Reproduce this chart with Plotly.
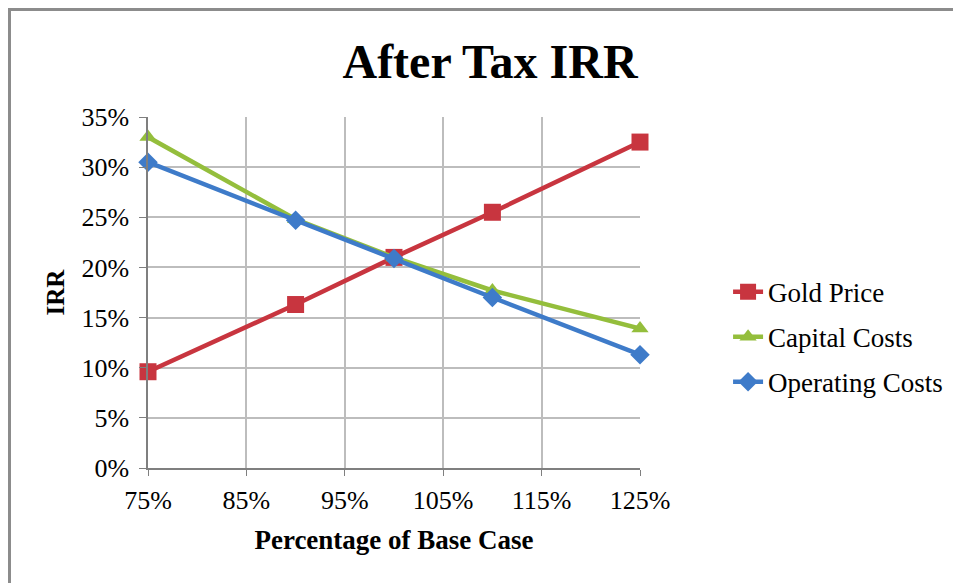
import plotly.graph_objects as go

x_vals = [75, 90, 100, 110, 125]
gold_price = [9.6, 16.3, 21.0, 25.5, 32.5]
capital_costs = [33.0, 24.8, 21.0, 17.7, 13.9]
operating_costs = [30.5, 24.7, 20.9, 17.0, 11.3]
x_ticks = [75, 85, 95, 105, 115, 125]
x_tick_text = ["75%", "85%", "95%", "105%", "115%", "125%"]
y_ticks = [0, 5, 10, 15, 20, 25, 30, 35]
y_tick_text = ["0%", "5%", "10%", "15%", "20%", "25%", "30%", "35%"]

FONT = "Liberation Serif, Times New Roman, serif"

fig = go.Figure()
series = [
    ("Gold Price", gold_price, "#C8353F", "square", 17),
    ("Capital Costs", capital_costs, "#94BE3C", "triangle-up", 15),
    ("Operating Costs", operating_costs, "#3E7BC9", "diamond", 15),
]
for name, vals, col, sym, sz in series:
    fig.add_trace(go.Scatter(
        x=x_vals, y=vals, name=name, mode="lines+markers",
        line=dict(color=col, width=4.5),
        marker=dict(symbol=sym, size=sz, color=col),
        cliponaxis=False, legendgroup=name,
    ))

fig.update_layout(
    width=961, height=583,
    margin=dict(l=140, r=329, t=109, b=123),
    paper_bgcolor="white", plot_bgcolor="white",
    font=dict(family=FONT, size=26, color="black"),
    title=dict(text="<b>After Tax IRR</b>", x=0.5016, xanchor="center",
               y=0.909, yanchor="middle", font=dict(family=FONT, size=48, color="black")),
    legend=dict(x=1.179, xanchor="left", y=0.373, yanchor="middle",
                font=dict(family=FONT, size=27, color="black"),
                traceorder="grouped", tracegroupgap=7, itemwidth=30),
    showlegend=True,
)
fig.update_xaxes(
    range=[75, 125], tickvals=x_ticks, ticktext=x_tick_text,
    showgrid=True, gridcolor="#BDBDBD", gridwidth=1.5,
    showline=True, linecolor="#7F7F7F", linewidth=1.5,
    ticks="outside", ticklen=6, tickcolor="#7F7F7F",
    tickfont=dict(family=FONT, size=26), ticklabelstandoff=2,
    title=dict(text="<b>Percentage of Base Case</b>", font=dict(family=FONT, size=27), standoff=16),
    zeroline=False,
)
fig.update_yaxes(
    range=[0, 35], tickvals=y_ticks, ticktext=y_tick_text,
    showgrid=True, gridcolor="#BDBDBD", gridwidth=1.5,
    showline=True, linecolor="#7F7F7F", linewidth=1.5,
    ticks="outside", ticklen=7, tickcolor="#7F7F7F",
    tickfont=dict(family=FONT, size=26), ticklabelstandoff=5,
    title=dict(text="<b>IRR</b>", font=dict(family=FONT, size=25), standoff=10),
    zeroline=False,
)
# outer chart frame
fig.add_shape(type="rect", xref="paper", yref="paper",
              x0=-0.2815, x1=1.70, y0=-0.40, y1=1.306,
              line=dict(color="#8C8C8C", width=3), fillcolor="rgba(0,0,0,0)", layer="below")

fig.write_html("out.html")
